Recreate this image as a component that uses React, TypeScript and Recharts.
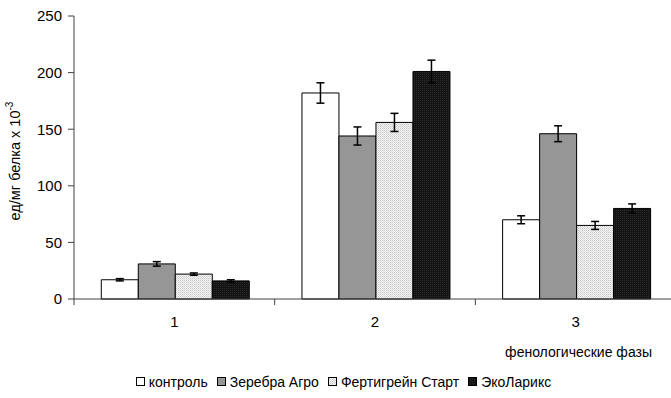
import React from "react";
import {
  BarChart,
  Bar,
  XAxis,
  YAxis,
  ErrorBar,
  Legend,
  Label,
} from "recharts";

const phases = ["1", "2", "3"];
const control = [17, 182, 70];
const controlErr = [1, 9, 3.5];
const zerebra = [31, 144, 146];
const zerebraErr = [2, 8, 7];
const fertigrain = [22, 156, 65];
const fertigrainErr = [1, 8, 3.5];
const ekolarix = [16, 201, 80];
const ekolarixErr = [1, 10, 4];
const yTicks = [0, 50, 100, 150, 200, 250];

const series = [
  { key: "control", name: "контроль", fill: "#ffffff" },
  { key: "zerebra", name: "Зеребра Агро", fill: "#969696" },
  { key: "fertigrain", name: "Фертигрейн Старт", fill: "url(#patLight)" },
  { key: "ekolarix", name: "ЭкоЛарикс", fill: "url(#patDark)" },
];

const data = phases.map((p, i) => ({
  phase: p,
  control: control[i],
  controlErr: controlErr[i],
  zerebra: zerebra[i],
  zerebraErr: zerebraErr[i],
  fertigrain: fertigrain[i],
  fertigrainErr: fertigrainErr[i],
  ekolarix: ekolarix[i],
  ekolarixErr: ekolarixErr[i],
}));

const FONT = "'Liberation Sans', Arial, sans-serif";

// label in the middle of the band, tick mark on the band's left edge
const PhaseTick = (props: any) => {
  const { x, y, payload } = props;
  const left = payload.coordinate - payload.offset;
  return (
    <g>
      <line x1={left} x2={left} y1={y - 17} y2={y - 11} stroke="#404040" />
      <text x={x} y={y} dy="0.71em" textAnchor="middle" fontSize={15} fill="#000">
        {payload.value}
      </text>
    </g>
  );
};

const YTitle = () => (
  <text
    x={0}
    y={0}
    transform="translate(20, 161) rotate(-90)"
    textAnchor="middle"
    fontSize={14.5}
    fill="#000"
  >
    ед/мг белка х 10
    <tspan dy={-7} fontSize={10}>-3</tspan>
  </text>
);

const XTitle = () => (
  <text x={652} y={357} textAnchor="end" fontSize={14} fill="#000">
    фенологические фазы
  </text>
);

const LegendBox = () => (
  <div
    style={{
      display: "flex",
      justifyContent: "center",
      gap: 9,
      height: 20,
      alignItems: "center",
      fontSize: 14,
      paddingLeft: 16,
      color: "#000",
    }}
  >
    {series.map((s) => (
      <span key={s.key} style={{ display: "flex", alignItems: "center", gap: 3 }}>
        <svg width={10} height={10}>
          <rect x={0.5} y={0.5} width={8} height={8} fill={s.fill} stroke="#000" />
        </svg>
        {s.name}
      </span>
    ))}
  </div>
);

export default function App() {
  return (
    <div style={{ position: "absolute", left: 0, top: 0, fontFamily: FONT, background: "#fff" }}>
      <BarChart
        width={671}
        height={398}
        data={data}
        margin={{ top: 16, right: -5, left: 30, bottom: 6 }}
        barCategoryGap="13.6%"
        barGap={0}
        style={{ fontFamily: FONT }}
      >
        <defs>
          <pattern id="patLight" width={2} height={2} patternUnits="userSpaceOnUse">
            <rect width={2} height={2} fill="#f4f4f4" />
            <rect width={1} height={1} fill="#c8c8c8" />
            <rect x={1} y={1} width={1} height={1} fill="#dcdcdc" />
          </pattern>
          <pattern id="patDark" width={2} height={2} patternUnits="userSpaceOnUse">
            <rect width={2} height={2} fill="#141414" />
            <rect width={1} height={1} fill="#2a2a2a" />
          </pattern>
        </defs>
        <XAxis
          dataKey="phase"
          height={73}
          stroke="#404040"
          tickLine={false}
          tickSize={6}
          tickMargin={11}
          tick={<PhaseTick />}
          interval={0}
        >
          <Label content={<XTitle />} />
        </XAxis>
        <YAxis
          width={44}
          domain={[0, 250]}
          ticks={yTicks}
          stroke="#404040"
          tickSize={6}
          tickMargin={6}
          tick={{ fill: "#000", fontSize: 15 }}
        >
          <Label content={<YTitle />} />
        </YAxis>
        <Legend verticalAlign="bottom" content={<LegendBox />} wrapperStyle={{ left: 0, width: 671 }} />
        {series.map((s) => (
          <Bar
            key={s.key}
            dataKey={s.key}
            name={s.name}
            fill={s.fill}
            stroke="#000"
            strokeWidth={1}
            isAnimationActive={false}
          >
            <ErrorBar dataKey={s.key + "Err"} width={4} stroke="#000" strokeWidth={1.5} />
          </Bar>
        ))}
      </BarChart>
    </div>
  );
}
